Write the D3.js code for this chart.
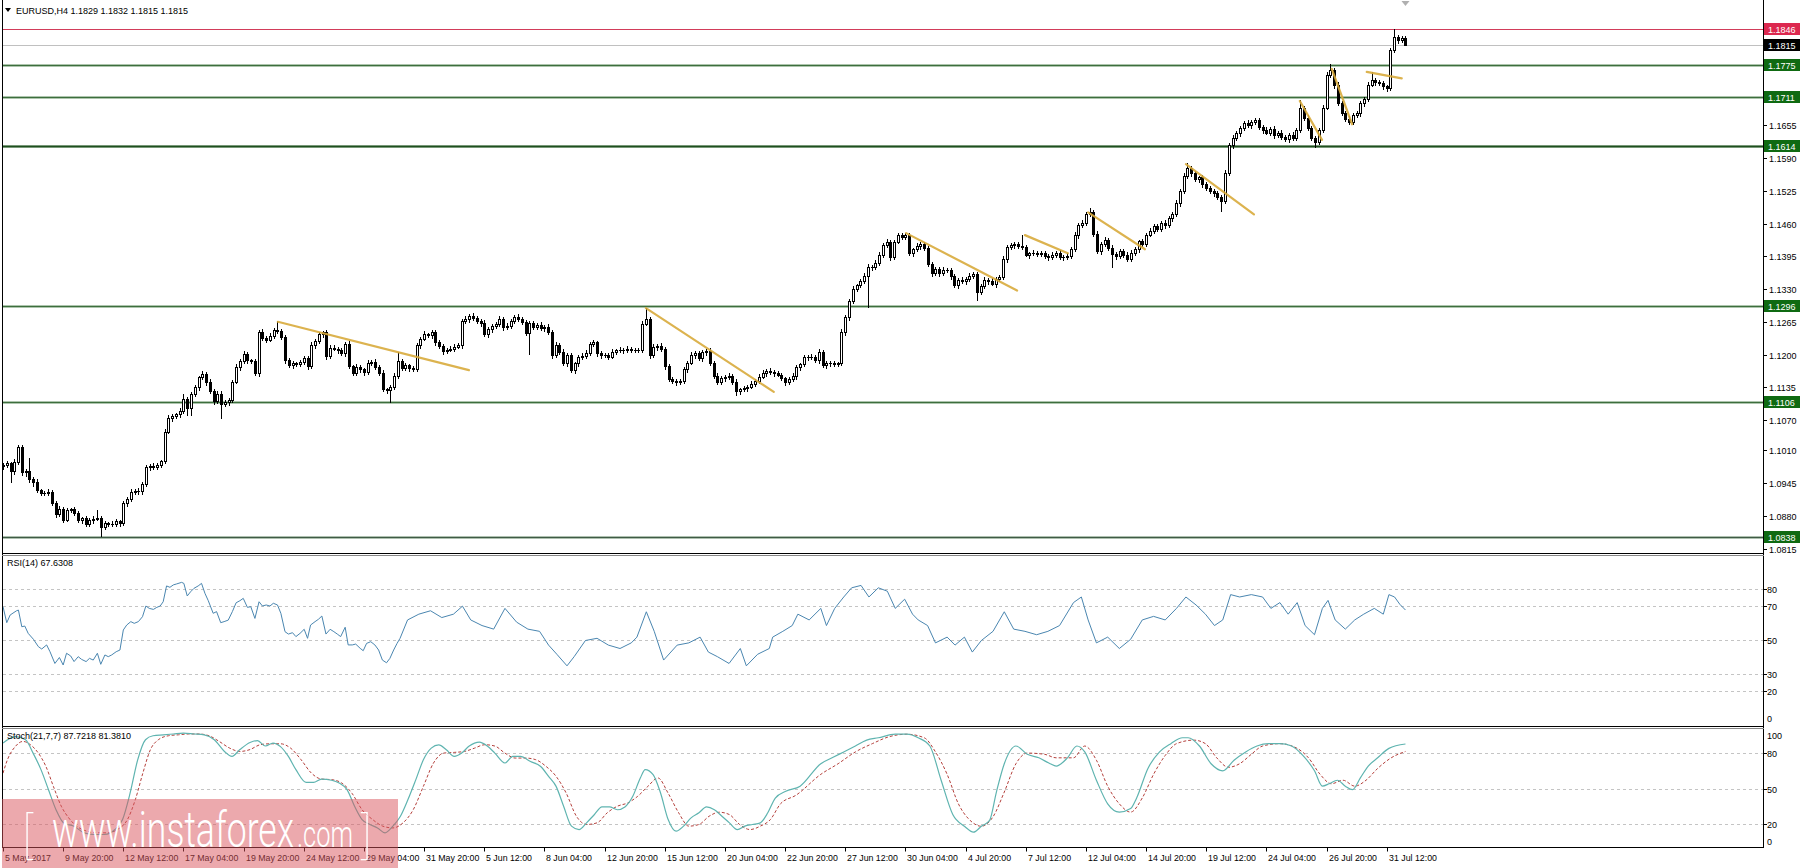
<!DOCTYPE html>
<html><head><meta charset="utf-8">
<script src="https://cdn.jsdelivr.net/npm/d3@7"></script>
<style>
body{margin:0;background:#fff;overflow:hidden}
svg{display:block}
text{font-family:"Liberation Sans",Arial,sans-serif;font-size:9px;fill:#000}
</style>
</head><body>
<svg id="c" width="1800" height="868"></svg>
<script>
// ---------- DATA ----------
const symbolTitle = "EURUSD,H4  1.1829 1.1832 1.1815 1.1815";
const rsiTitle = "RSI(14) 67.6308";
const stochTitle = "Stoch(21,7,7) 87.7218 81.3810";
const firstOpen = 1.0978;
const closes = [
1.0981,1.0984,1.0968,1.0986,1.1017,1.0966,1.0968,1.0953,1.0948,1.0931,
1.0926,1.0925,1.0928,1.0906,1.0883,1.0893,1.0872,1.0892,1.0893,1.0886,
1.0871,1.0875,1.0863,1.0872,1.0874,1.0876,1.0857,1.0865,1.0864,1.0863,
1.0869,1.0865,1.0905,1.0913,1.0928,1.0930,1.0929,1.0943,1.0976,1.0979,
1.0976,1.0981,1.0988,1.1047,1.1074,1.1078,1.1082,1.1089,1.1112,1.1093,
1.1122,1.1135,1.1155,1.1161,1.1146,1.1128,1.1107,1.1122,1.1102,1.1105,
1.1109,1.1146,1.1176,1.1188,1.1201,1.1189,1.1187,1.1164,1.1244,1.1232,
1.1229,1.1237,1.1248,1.1247,1.1234,1.1189,1.1179,1.1183,1.1181,1.1185,
1.1193,1.1177,1.1218,1.1227,1.1240,1.1244,1.1197,1.1214,1.1212,1.1209,
1.1204,1.1220,1.1177,1.1164,1.1176,1.1171,1.1165,1.1184,1.1185,1.1175,
1.1164,1.1131,1.1130,1.1136,1.1158,1.1188,1.1173,1.1179,1.1173,1.1172,
1.1218,1.1231,1.1240,1.1238,1.1244,1.1224,1.1217,1.1207,1.1210,1.1212,
1.1216,1.1218,1.1267,1.1270,1.1277,1.1272,1.1267,1.1263,1.1240,1.1250,
1.1257,1.1260,1.1270,
1.1255,1.1257,1.1267,1.1274,1.1270,1.1265,1.1242,1.1262,1.1255,1.1259,
1.1252,1.1255,1.1245,1.1199,1.1219,1.1206,1.1183,1.1199,1.1169,1.1183,
1.1195,1.1197,1.1204,1.1221,1.1224,1.1203,1.1199,1.1199,1.1196,1.1206,
1.1209,1.1210,1.1209,1.1212,1.1210,1.1209,1.1209,1.1261,1.1270,1.1199,
1.1216,1.1217,1.1212,1.1177,1.1151,1.1148,1.1146,1.1148,1.1171,1.1184,
1.1199,1.1203,1.1193,1.1206,1.1208,1.1184,1.1158,1.1146,1.1153,1.1156,
1.1158,1.1146,1.1127,1.1131,1.1133,1.1136,1.1142,1.1148,1.1156,1.1164,
1.1168,1.1166,1.1163,1.1160,1.1153,1.1146,1.1151,1.1158,1.1175,1.1181,
1.1195,1.1195,1.1196,1.1189,1.1206,1.1179,1.1184,1.1183,1.1181,1.1183,
1.1244,1.1274,1.1307,1.1331,1.1338,1.1345,1.1355,1.1374,1.1373,1.1381,
1.1398,1.1417,1.1424,1.1394,1.1424,1.1437,1.1434,1.1437,1.1402,1.1409,
1.1415,1.1419,1.1411,1.1380,1.1361,1.1369,1.1361,1.1368,1.1368,1.1355,
1.1338,1.1348,1.1345,1.1349,1.1356,1.1360,1.1325,1.1336,1.1348,1.1345,
1.1341,1.1349,1.1353,1.1389,1.1413,1.1417,1.1419,1.1415,1.1414,1.1398,
1.1401,1.1402,1.1400,1.1401,1.1396,1.1393,1.1398,1.1402,1.1394,1.1393,
1.1396,1.1409,1.1437,1.1457,1.1462,1.1478,1.1483,1.1440,1.1405,
1.1420,1.1428,1.1412,1.1400,1.1395,1.1405,1.1398,1.1390,1.1402,1.1410,
1.1425,1.1420,1.1438,1.1445,1.1455,1.1450,1.1462,1.1458,1.1470,1.1478,
1.1500,1.1525,1.1555,1.1570,1.1560,1.1548,1.1552,1.1538,1.1530,1.1525,
1.1520,1.1512,1.1505,1.1560,1.1615,1.1630,1.1640,1.1650,1.1660,1.1655,
1.1662,1.1665,1.1652,1.1645,1.1640,1.1648,1.1635,1.1640,1.1632,1.1628,
1.1636,1.1630,1.1645,1.1690,1.1670,1.1650,1.1630,1.1622,1.1645,1.1690,
1.1755,1.1765,1.1735,1.1700,1.1680,1.1668,
1.1662,1.1675,1.1679,1.1699,1.1708,1.1735,1.1745,1.1740,1.1738,1.1732,
1.1728,1.1804,1.1831,1.1824,1.1829,1.1815
];
// upper / lower wick lengths in pips
const upperWickPips = [
4,5,3,6,4,4,4,26,4,5, 3,4,5,3,4,6,5,4,3,5, 4,3,5,4,5,16,3,4,3,5, 4,3,5,4,6,3,5,4,5,4,
5,4,3,5,6,4,3,5,10,4, 4,5,3,6,4,5,4,6,5,4, 4,3,5,4,6,4,3,5,4,6, 4,5,4,18,4,4,5,4,3,5,
4,5,6,4,5,3,4,5,4,3, 5,4,6,3,5,4,3,5,4,6, 4,5,3,4,5,18,4,5,3,4, 5,4,6,3,5,4,5,3,4,5,
4,5,3,6,4,5,4,3,5,4, 4,5,6,4,5,3,4,6,5,4, 5,4,3,5,4,6,3,5,4,5, 4,5,3,4,6,5,4,5,3,4,
5,4,6,3,5,4,5,4,3,5, 6,22,4,5,3,5,4,5,4,3, 4,5,3,6,4,5,4,3,5,4, 5,4,3,5,4,6,3,5,4,5,
4,5,6,3,5,4,5,4,3,5, 5,4,3,5,4,6,4,5,4,3, 4,5,3,6,5,4,5,3,4,6, 5,4,6,5,4,5,3,4,5,4,
4,5,3,6,4,5,4,3,5,4, 5,4,3,5,4,6,4,5,4,3, 4,5,3,6,4,5,6,4,5,4, 5,22,4,3,5,4,5,4,3,5,
4,5,3,5,4,6,4,5,4,7, 4,5,3,5,4,6,3,5,4,5, 5,4,3,5,4,6,5,4,3,5, 4,5,6,3,5,10,4,5,3,4,
5,4,3,5,4,6,4,5,4,3, 4,5,3,4,5,4,6,3,5,4, 5,4,3,5,4,15,4,5,3,4, 4,5,6,11,4,5,3,4,5,4,
5,4,3,5,16,4,5,4,3,5, 15,4,3,3
];
const lowerWickPips = [
5,4,20,4,3,4,6,5,8,4, 4,3,4,5,6,4,5,3,4,5, 4,5,3,4,6,3,18,4,5,3, 3,5,4,6,3,4,5,6,4,5,
4,3,5,4,3,5,4,6,4,12, 13,4,5,3,6,4,5,4,28,5, 5,4,3,6,4,5,4,4,6,4, 5,3,4,5,4,6,4,5,4,3,
4,5,3,5,4,6,5,4,3,5, 4,6,3,5,4,5,6,4,5,4, 5,4,6,25,4,5,4,3,5,4, 4,5,3,4,5,6,4,5,4,3,
5,3,4,5,6,4,5,6,4,5, 5,4,3,6,4,5,4,3,5,4, 40,5,4,3,5,4,6,4,5,4, 5,4,6,5,4,3,5,4,5,6,
4,5,3,5,4,6,4,5,4,3, 4,3,5,4,6,4,5,3,4,6, 5,4,6,3,5,4,5,6,4,5, 4,5,6,4,5,7,5,4,5,3,
5,4,3,6,4,5,3,4,6,4, 4,6,5,4,5,3,4,5,4,6, 5,3,4,4,5,6,4,5,4,3, 60,5,4,3,5,4,6,4,3,5,
5,4,6,3,5,4,5,6,4,5, 4,5,6,4,5,3,5,4,5,17, 5,4,5,3,6,4,4,5,3,5, 4,5,3,6,4,5,4,5,6,4,
5,4,6,3,5,4,5,4,5,3, 5,4,6,5,4,27,5,4,5,4, 4,5,6,4,5,3,4,5,4,6, 5,4,3,5,4,4,6,4,5,5,
4,5,6,4,20,5,4,5,4,6, 5,4,6,5,4,5,3,4,5,4, 4,5,6,4,5,4,5,4,5,10, 5,4,3,4,6,5,4,5,4,5,
4,5,6,4,3,5,4,5,6,4, 4,5,4,0
];
const timeLabels = ["5 May 2017","9 May 20:00","12 May 12:00","17 May 04:00","19 May 20:00","24 May 12:00",
"29 May 04:00","31 May 20:00","5 Jun 12:00","8 Jun 04:00","12 Jun 20:00","15 Jun 12:00","20 Jun 04:00",
"22 Jun 20:00","27 Jun 12:00","30 Jun 04:00","4 Jul 20:00","7 Jul 12:00","12 Jul 04:00","14 Jul 20:00",
"19 Jul 12:00","24 Jul 04:00","26 Jul 20:00","31 Jul 12:00"];
const barsPerLabel = 16;
const priceTicks = [1.0815,1.0880,1.0945,1.1010,1.1070,1.1135,1.1200,1.1265,1.1330,1.1395,1.1460,1.1525,1.1590,1.1655];
const levelPrices = [1.1846,1.1775,1.1711,1.1614,1.1296,1.1106,1.0838];
const bidPrice = 1.1815;
// trendlines: [startBar, startPrice, endBar, endPrice]
const trendlines = [[73.1,1.1265,123.9,1.1169],[171,1.1292,205,1.1126],[240.2,1.1441,269.7,1.1327],
[271.8,1.1437,283.2,1.1401],[288.6,1.1482,303.7,1.1409],[314.6,1.1578,332.7,1.1478],
[344.9,1.1703,350.8,1.1626],[353.4,1.1767,358.8,1.1657],[362.7,1.1761,372,1.1748]];
const rsiLevels = [80,70,50,30,20];
const rsiTicks = [80,70,50,30,20,0];
const stochLevels = [80,50,20];
const stochTicks = [100,80,50,20,0];
// [bar, value]
const rsiPoints = [[0,69.6],[1,60.2],[1.9,64.7],[3.6,67.2],[4.1,67.6],[5,57.8],[5.8,58.2],[6.7,53.9],[8.1,50.4],[9.4,46.1],[10.3,44.7],[11.6,47.1],[12.5,43.1],[13.8,36.2],[15,39.7],[16,35.3],[16.9,42.2],[18,40.6],[18.9,37.3],[20,40.2],[20.9,38.6],[22.1,37.3],[23,39.2],[24,38.2],[25.1,42.2],[26,35.7],[27.1,41.2],[28,40.2],[28.9,41.2],[30.1,43.1],[31.1,44.1],[32,55.9],[32.9,58.8],[34,60.8],[34.9,59.8],[36,60.8],[37.1,63.7],[38,70],[38.9,68.6],[40,68],[40.9,69.2],[41.8,70],[42.6,72.5],[43.5,81.8],[44.4,81],[45.3,82.4],[46.2,83],[47.5,83.9],[48.1,83.3],[49,75.9],[49.9,78.4],[50.8,80.4],[51.9,81.8],[52.8,83.3],[53.7,77.5],[54.6,73.1],[55.9,65.7],[56.8,66.7],[57.9,60.2],[58.8,60.8],[59.9,61.7],[61,66.7],[62,71.9],[63,73.1],[63.9,74.5],[65,69.2],[65.9,69.6],[67,62.7],[68.1,72.5],[69,70],[70,70.6],[71,70],[71.9,71.6],[73,70.6],[73.9,65.7],[75,54.9],[75.9,53.5],[77,54.3],[77.9,52],[79,53.9],[80.1,56.3],[81,51],[81.8,58.8],[83,60.8],[83.9,62.2],[84.8,64.1],[85.9,53.5],[87,56.3],[88,54.9],[88.9,53.5],[89.8,52],[91,57.5],[91.8,47.1],[92.9,47.1],[93.8,47.6],[95,45.1],[95.8,43.7],[96.7,48],[97.8,49],[98.9,47.1],[99.9,44.1],[100.9,38.2],[102,36.6],[102.9,39.2],[103.9,44.1],[104.8,48],[105.6,51],
[107.6,61.8],[110.6,65.2],[113.7,67.2],[116.7,63.2],[119.8,65.2],[122.2,69.9],[124.4,61.8],[127.4,58.5],[130.5,56.4],[133.5,68.6],[136.6,60.5],[139.6,56.4],[142.7,55.1],[145.1,47],[147.3,41.6],[150,34.8],[151.9,40.2],[154.9,49.7],[158,51],[161,47],[164.1,45],[167.1,48.3],[168.6,51.7],[171.1,66.6],[173.2,55.1],[175.7,38.2],[179.3,47],[182.4,48.3],[185.4,51.7],[187.6,42.9],[190,40.2],[193.1,36.2],[196.1,45],[197.7,34.8],[200.7,41.6],[203.8,45],[204.7,51.7],[207.4,55.1],[209.9,58.5],[211.4,65.2],[214.4,61.8],[217.5,68.6],[219,58.5],[221.2,68.6],[223.6,75.3],[225.7,80.7],[228.2,82.1],[230.3,75.3],[232.8,80.7],[235.2,78.7],[237.3,68.6],[239.8,74],[241.9,65.2],[243.4,61.8],[245.9,58.5],[248,48.3],[251.1,51.7],[253.2,47],[255.7,51.7],[257.8,42.9],[260.2,49.7],[263.3,55.1],[266.3,66.6],[268.8,56.4],[271.8,55.1],[274.9,53.1],[277.9,55.1],[281,58.5],[284.7,72],[286.8,75.3],[288.6,61.8],[290.8,48.3],[293.8,51.7],[296.9,45],[299.9,50.4],[303,61.8],[306,63.9],[309.1,61.8],[312.1,68.6],[314.6,75.3],[317.3,70.6],[319.8,65.2],[322.2,58.5],[324.4,61.8],[326.5,76.7],[328.9,75.3],[332,76.7],[335,75.3],[337.2,68.6],[339.6,72],[341.8,65.2],[344.2,72],[346.3,58.5],[348.8,53.1],[350.9,68.6],[352.4,73.3],[354.3,61.8],[357,56.4],[359.5,61.8],[361.9,65.2],[364.7,68.6],[367.1,65.2],[368.6,76.7],[370.1,75.3],[371.5,71],[373,67.63]];
const stochMainPoints = [[0,88.5],[3.3,94],[6,91.3],[8,80],[10.1,66],[12.1,49],[14.1,32],[16.2,20.6],[18.9,18],[21.6,12.4],[24.3,11],[27,11],[29.7,15],[31.8,23.7],[33.8,46],[35.8,74],[37.9,91.3],[39.9,94.7],[42.6,95.5],[45.3,96.2],[48,96.9],[50.8,96.2],[53.5,95.5],[56.2,91.3],[58.9,81.4],[60.9,77.2],[63,83],[65.7,89],[67.7,90.6],[69.8,86],[71.8,88.5],[73.8,85.5],[75.9,77.2],[77.9,66],[80.6,55.2],[82.6,55.2],[84.7,58],[87.4,57],[89.4,54.6],[91.5,49],[93.5,35],[95.5,23.7],[97.6,19.5],[99.6,16.6],[101.6,12.4],[103.7,18.1],[105.7,26.5],[107.7,40.6],[109.8,57.5],[111.8,74.3],[113.9,84.2],[115.9,87],[117.9,82.8],[120,77.2],[122,80],[124,86],[126.7,89.3],[128.8,86],[130.8,80],[133.5,71.6],[135.6,77.2],[137.6,77.2],[140.3,72.9],[143,68.7],[145.1,60.3],[147.1,51.8],[149.1,35],[151.2,18.1],[153.2,15.2],[155.2,20.9],[157.3,28],[159.3,34.4],[161.3,34.4],[163.4,32],[165.4,34.4],[167.5,43.4],[169.5,58.9],[170.8,66],[172.9,61.8],[174.9,46],[176.9,23.7],[179,13.8],[181,18.1],[183,25.1],[185.1,29.4],[187.1,34.4],[189.2,32],[191.2,26.5],[193.2,20.9],[195.3,15.2],[197.3,18.1],[199.3,19.5],[201.4,20.9],[203.4,29.4],[205.4,41.9],[208.2,47.6],[212,52],[217.5,71],[220.5,76],[223.6,81],[226.7,86],[229.7,91],[232.8,93],[237.3,96],[240.4,96],[243.4,93],[246.5,86],[249.5,57],[252.6,28],[255.7,18],[258.1,13],[260.2,18],[262.4,23],[264.2,47],[266.3,71],[269.4,86],[272.4,79],[275.5,76],[278.5,71],[280.1,69],[283.1,76],[285.6,86],[287.7,81],[290.8,57],[293.8,37],[296.9,30],[299.9,33],[301.5,42],[304.5,67],[307.6,81],[310.6,88],[313.7,93],[315.2,93],[318.2,86],[321.3,71],[324.4,65],[327.4,74],[330.5,81],[333.5,86],[336.6,88],[339.6,88],[342.7,86],[345.7,78],[348.8,65],[350.9,52],[352.7,54],[354.9,57],[357,52],[358.9,49],[361,59],[363.1,69],[365.6,76],[368.6,84],[373,87.72]];
const stochSignalPoints = [[0,63],[1.2,74.5],[3.3,85.7],[5.3,89.9],[7.3,87.1],[9.4,80],[11.4,68.8],[13.4,51.8],[15.5,35],[17.5,25],[19.6,18.1],[22.3,13.8],[25,12.4],[27.7,12.4],[30.4,15.2],[33.1,23.7],[35.2,40.6],[37.2,63.1],[39.2,82.9],[41.3,91.3],[44,94.7],[46.7,95.5],[49.4,96.2],[52.1,96.2],[54.8,94.7],[57.5,89.9],[60.3,84.2],[63,81.4],[65.7,83],[68.4,87.1],[71.1,87.9],[73.8,87.9],[76.5,84.2],[79.3,74.3],[82,63.1],[84.7,58],[87.4,57.5],[90.1,54.6],[92.8,46],[95.5,32],[98.3,23.7],[101,18.1],[103.7,16.6],[106.4,20.9],[109.1,32],[111.8,51.8],[114.5,71.6],[117.2,80],[120,80.6],[122.7,81.4],[125.4,84.2],[128.1,87.1],[130.8,86],[133.5,80],[136.2,75.8],[139,75.8],[141.7,74.4],[144.4,68.8],[147.1,60.3],[149.8,46],[152.5,26.5],[155.2,19.5],[158,20.9],[160.7,29.4],[163.4,35],[166.1,37.7],[168.8,43.4],[171.5,51.8],[174.2,58.9],[176.9,46],[179.7,29.4],[182.4,18.1],[185.1,19.5],[187.8,26.5],[190.5,29.9],[193.2,27.9],[195.9,19.5],[198.7,15.2],[201.4,18.1],[204.1,23.7],[206.8,37.1],[210.9,44.3],[217.5,62],[222.1,71],[226.7,81],[231.2,88],[235.8,94],[240.4,96],[245,93],[248,81],[251.1,62],[254.1,37],[257.2,23],[260.2,18],[263.3,26],[266.3,47],[269.4,71],[272.4,80],[277,79],[280.1,76],[284.7,76],[287.7,86],[290.8,74],[293.8,52],[296.9,37],[299.9,30],[303,42],[306,62],[309.1,78],[312.1,88],[316.7,91],[319.8,88],[322.8,76],[325.9,68],[328.9,71],[332,79],[335,86],[339.6,88],[344.2,84],[347.2,76],[350.3,62],[353.3,54],[356.4,57],[359.5,52],[362.5,57],[365.6,67],[369.2,76],[373,81.38]];

// ---------- LAYOUT ----------
const W = 1800, H = 868;
const axisX = 1763;
const mainTop = 0, mainBot = 553;
const rsiTop = 556, rsiBot = 726;
const stoTop = 729, stoBot = 847.5;
const svg = d3.select("#c");

const nBars = closes.length;
const x = d3.scaleLinear().domain([0, nBars - 1]).range([3, 3 + 3.76 * (nBars - 1)]);
const y = d3.scaleLinear().domain([1.0838, 1.1846]).range([537, 29]);
const yR = d3.scaleLinear().domain([0, 100]).range([725, 555]);
const yS = d3.scaleLinear().domain([0, 100]).range([847.5, 729.5]);

const defs = svg.append("defs");
defs.append("clipPath").attr("id","cm").append("rect").attr("x",3).attr("y",mainTop).attr("width",axisX-3).attr("height",mainBot-mainTop);
defs.append("clipPath").attr("id","cr").append("rect").attr("x",3).attr("y",rsiTop).attr("width",axisX-3).attr("height",rsiBot-rsiTop);
defs.append("clipPath").attr("id","cs").append("rect").attr("x",3).attr("y",stoTop).attr("width",axisX-3).attr("height",stoBot-stoTop);

// ---------- MAIN PANEL ----------
const gm = svg.append("g").attr("clip-path","url(#cm)");
const levelStyle = p => {
  if (p === 1.1846) return {c:"#d23c5a", w:1};
  if (p === 1.1614) return {c:"#1f4f1f", w:2};
  if (p === 1.0838) return {c:"#3f5a45", w:1.3};
  return {c:"#3d6e3d", w:1.4};
};
gm.append("line").attr("x1",3).attr("x2",axisX).attr("y1",Math.round(y(bidPrice))+0.5).attr("y2",Math.round(y(bidPrice))+0.5)
  .attr("stroke","#c0c0c0").attr("stroke-width",1);
levelPrices.forEach(p => {
  const s = levelStyle(p);
  const yy = Math.round(y(p)) + 0.5;
  if (p !== 1.1846) gm.append("line").attr("x1",3).attr("x2",axisX).attr("y1",yy).attr("y2",yy)
      .attr("stroke","#9fc39f").attr("stroke-width",3).attr("opacity",0.45);
  gm.append("line").attr("x1",3).attr("x2",axisX).attr("y1",yy).attr("y2",yy)
    .attr("stroke",s.c).attr("stroke-width",s.w);
});

// candles
const gc = gm.append("g").attr("shape-rendering","crispEdges");
closes.forEach((c, i) => {
  const o = i === 0 ? firstOpen : closes[i-1];
  const hi = Math.max(o,c) + upperWickPips[i]*0.0001;
  const lo = Math.min(o,c) - lowerWickPips[i]*0.0001;
  const cx = Math.round(x(i));
  gc.append("line").attr("x1",cx+0.5).attr("x2",cx+0.5)
    .attr("y1",Math.round(y(hi))).attr("y2",Math.round(y(lo))+1)
    .attr("stroke","#000").attr("stroke-width",1);
  const top = Math.round(y(Math.max(o,c))), bot = Math.round(y(Math.min(o,c)));
  if (bot - top < 1) {
    gc.append("line").attr("x1",cx-1).attr("x2",cx+2).attr("y1",top+0.5).attr("y2",top+0.5)
      .attr("stroke","#000").attr("stroke-width",1);
  } else {
    gc.append("rect").attr("x",cx-0.5).attr("y",top+0.5).attr("width",2).attr("height",bot-top)
      .attr("fill", c >= o ? "#fff" : "#000").attr("stroke","#000").attr("stroke-width",1);
  }
});

// trendlines
trendlines.forEach(t => {
  gm.append("line").attr("x1",x(t[0])).attr("y1",y(t[1])).attr("x2",x(t[2])).attr("y2",y(t[3]))
    .attr("stroke","#d9ab3c").attr("stroke-width",2.2).attr("stroke-linecap","round").attr("opacity",0.9);
});

// header
svg.append("path").attr("d","M5,8 L11,8 L8,12 Z").attr("fill","#000");
svg.append("text").attr("x",16).attr("y",13.5).text(symbolTitle);
svg.append("path").attr("d",`M${x(nBars-1)-4},1 L${x(nBars-1)+4},1 L${x(nBars-1)},6 Z`).attr("fill","#b0b0b0");

// ---------- RSI ----------
const gr = svg.append("g").attr("clip-path","url(#cr)");
rsiLevels.forEach(v => {
  gr.append("line").attr("x1",3).attr("x2",axisX).attr("y1",Math.round(yR(v))+0.5).attr("y2",Math.round(yR(v))+0.5)
    .attr("stroke","#c4c4c4").attr("stroke-dasharray","3,3");
});
gr.append("path").datum(rsiPoints).attr("fill","none").attr("stroke","#4a86b0").attr("stroke-width",1)
  .attr("d", d3.line().x(d=>x(d[0])).y(d=>yR(d[1])));
svg.append("text").attr("x",7).attr("y",566).text(rsiTitle);

// ---------- STOCH ----------
const gs = svg.append("g").attr("clip-path","url(#cs)");
stochLevels.forEach(v => {
  gs.append("line").attr("x1",3).attr("x2",axisX).attr("y1",Math.round(yS(v))+0.5).attr("y2",Math.round(yS(v))+0.5)
    .attr("stroke","#c4c4c4").attr("stroke-dasharray","3,3");
});
gs.append("path").datum(stochSignalPoints).attr("fill","none").attr("stroke","#b4403c").attr("stroke-width",1)
  .attr("stroke-dasharray","3,2").attr("d", d3.line().curve(d3.curveMonotoneX).x(d=>x(d[0])).y(d=>yS(d[1])));
gs.append("path").datum(stochMainPoints).attr("fill","none").attr("stroke","#5fb4b0").attr("stroke-width",1.2)
  .attr("d", d3.line().curve(d3.curveMonotoneX).x(d=>x(d[0])).y(d=>yS(d[1])));
svg.append("text").attr("x",7).attr("y",739).text(stochTitle);

// ---------- FRAMES ----------
const fr = svg.append("g").attr("shape-rendering","crispEdges").attr("stroke","#000");
fr.append("line").attr("x1",2.5).attr("x2",2.5).attr("y1",0).attr("y2",stoBot);
fr.append("line").attr("x1",axisX+0.5).attr("x2",axisX+0.5).attr("y1",0).attr("y2",stoBot);
[[mainBot,"#000"],[mainBot+2,"#888"],[rsiBot,"#000"],[rsiBot+2,"#888"],[stoBot,"#000"]].forEach(([yy,col]) => {
  fr.append("line").attr("x1",2).attr("x2",axisX+1).attr("y1",Math.floor(yy)+0.5).attr("y2",Math.floor(yy)+0.5).attr("stroke",col);
});

// ---------- RIGHT AXES ----------
const ax = svg.append("g");
priceTicks.forEach(p => {
  const yy = Math.round(y(p));
  ax.append("line").attr("x1",axisX).attr("x2",axisX+4).attr("y1",yy+0.5).attr("y2",yy+0.5).attr("stroke","#000");
  ax.append("text").attr("x",axisX+6).attr("y",yy+3.5).text(p.toFixed(4));
});
const levelBox = (p, fill) => {
  const yy = Math.round(y(p));
  ax.append("rect").attr("x",axisX+1).attr("y",yy-6).attr("width",W-axisX-1).attr("height",12).attr("fill",fill);
  ax.append("text").attr("x",axisX+5).attr("y",yy+3.5).style("fill","#fff").text(p.toFixed(4));
};
levelPrices.forEach(p => levelBox(p, p === 1.1846 ? "#dc284f" : "#0f6a12"));
levelBox(bidPrice, "#000");

const clampIn = (v, a, b) => Math.max(a, Math.min(b, v));
rsiTicks.forEach(v => {
  const yy = Math.round(yR(v));
  if (v > 0) ax.append("line").attr("x1",axisX).attr("x2",axisX+4).attr("y1",yy+0.5).attr("y2",yy+0.5).attr("stroke","#000");
  ax.append("text").attr("x",axisX+4).attr("y",clampIn(yy, rsiTop+6, rsiBot-8)+3.5).text(v);
});
stochTicks.forEach(v => {
  const yy = Math.round(yS(v));
  if (v > 0 && v < 100) ax.append("line").attr("x1",axisX).attr("x2",axisX+4).attr("y1",yy+0.5).attr("y2",yy+0.5).attr("stroke","#000");
  ax.append("text").attr("x",axisX+4).attr("y",clampIn(yy, stoTop+6, stoBot-6)+3.5).text(v);
});

// ---------- TIME AXIS ----------
timeLabels.forEach((t, k) => {
  const xx = Math.round(x(k * barsPerLabel));
  ax.append("line").attr("x1",xx+0.5).attr("x2",xx+0.5).attr("y1",stoBot).attr("y2",stoBot+4).attr("stroke","#000");
  ax.append("text").attr("x",xx+2).attr("y",861).style("font-size","8.8px").text(t);
});

// ---------- WATERMARK ----------
const wm = svg.append("g");
wm.append("rect").attr("x",2).attr("y",799).attr("width",396).attr("height",69).attr("fill","#d9535b").attr("opacity",0.5);
const wmFont = "Roboto, 'Open Sans', sans-serif";
wm.append("text").attr("x",22).attr("y",853).style("font-family",wmFont).style("font-weight",100)
  .style("font-size","50px").style("fill","#fff").text("[");
wm.append("text").attr("x",52).attr("y",847).attr("textLength",242).attr("lengthAdjust","spacingAndGlyphs")
  .style("font-family",wmFont).style("font-weight",300).style("font-size","50px").style("fill","#fff").text("www.instaforex");
wm.append("text").attr("x",297).attr("y",847).attr("textLength",56).attr("lengthAdjust","spacingAndGlyphs")
  .style("font-family",wmFont).style("font-weight",300).style("font-size","36px").style("fill","#fff").text(".com");
wm.append("text").attr("x",361).attr("y",853).style("font-family",wmFont).style("font-weight",100)
  .style("font-size","50px").style("fill","#fff").text("]");
</script>
</body></html>
